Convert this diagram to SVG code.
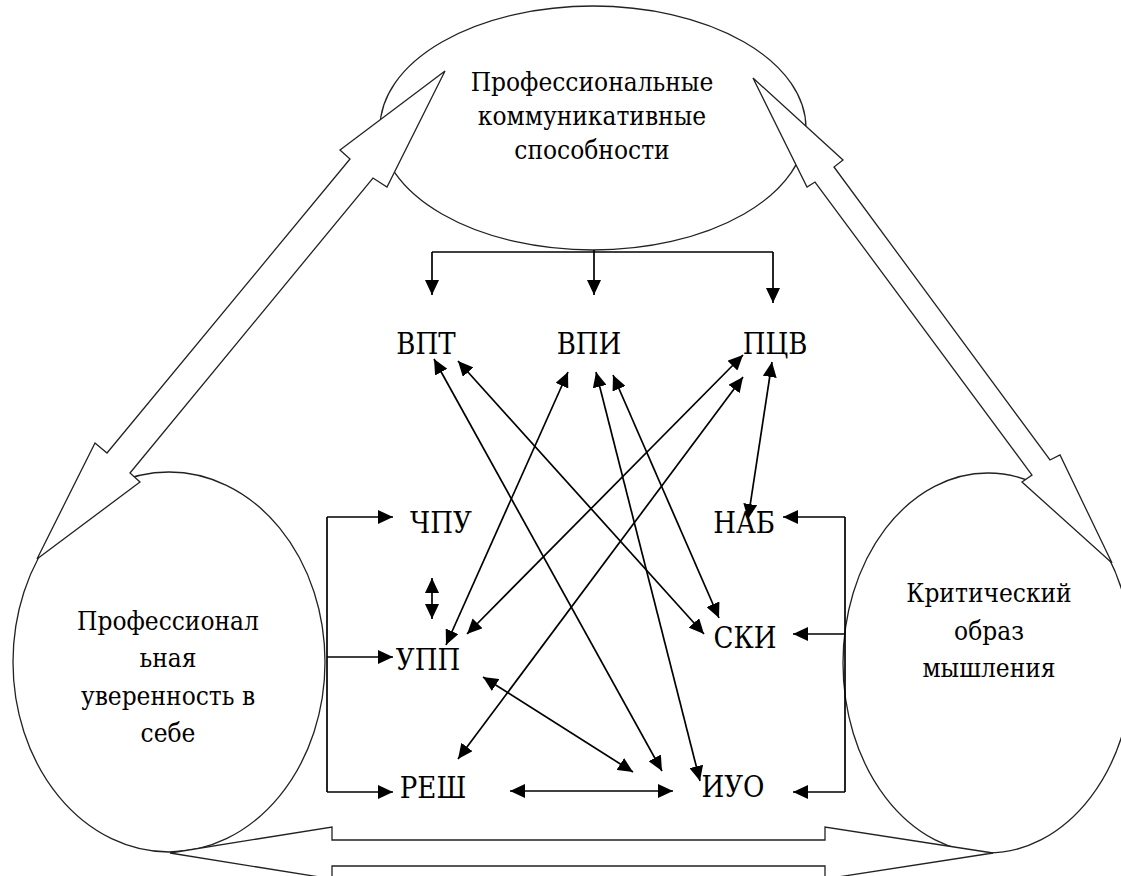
<svg xmlns="http://www.w3.org/2000/svg" width="1121" height="876" viewBox="0 0 1121 876">
<style>
.bg{fill:#fff}
.ell{fill:#fff;stroke:#222;stroke-width:1.3}
.blk{fill:#fff;stroke:#222;stroke-width:1.3;stroke-linejoin:miter}
.t{font-family:"DejaVu Serif Condensed","DejaVu Serif",serif;font-stretch:condensed;font-size:29px;fill:#000;text-anchor:middle}
.e{font-size:26px}
.ln{fill:none;stroke:#000;stroke-width:1.7}
.a1{marker-end:url(#ah)}
.a2{marker-start:url(#ah);marker-end:url(#ah)}
</style>
<defs>
<marker id="ah" markerUnits="userSpaceOnUse" markerWidth="16" markerHeight="14" refX="15" refY="7" orient="auto-start-reverse" viewBox="0 0 16 14">
<path d="M0,0 L15,7 L0,14 z" fill="#000"/>
</marker>
</defs>
<rect class="bg" x="0" y="0" width="1121" height="876"/>

<g id="node-communicative">
<ellipse class="ell" cx="593" cy="128" rx="213" ry="122"/>
<text class="t e" x="592" y="91">Профессиональные</text>
<text class="t e" x="592" y="125">коммуникативные</text>
<text class="t e" x="592" y="159">способности</text>
</g>
<g id="node-confidence">
<ellipse class="ell" cx="169" cy="662" rx="156" ry="190"/>
</g>
<g id="node-critical">
<ellipse class="ell" cx="988" cy="663" rx="145" ry="190"/>
</g>

<g id="connectors">
<polygon class="blk" points="445,71 340,150 350,159 107,453 95,443 37,559 140,482 130,473 373,178 387,187"/>
<polygon class="blk" points="753,78 843,160 834,167 1050,460 1060,455 1112,563 1022,482 1032,475 815,182 807,187"/>
<polygon class="blk" points="170,853 332,827 332,840 825,840 825,827 993,853 825,879 825,866 332,866 332,879"/>

<line class="ln" x1="432" y1="252" x2="773" y2="252"/>
<line class="ln a1" x1="432" y1="252" x2="432" y2="295"/>
<line class="ln a1" x1="594" y1="250" x2="594" y2="295"/>
<line class="ln a1" x1="773" y1="252" x2="773" y2="303"/>

<line class="ln" x1="327" y1="517" x2="327" y2="792"/>
<line class="ln a1" x1="327" y1="517" x2="393" y2="517"/>
<line class="ln a1" x1="327" y1="657" x2="393" y2="657"/>
<line class="ln a1" x1="327" y1="792" x2="393" y2="792"/>

<line class="ln" x1="845" y1="517" x2="845" y2="792"/>
<line class="ln a1" x1="845" y1="517" x2="783" y2="517"/>
<line class="ln a1" x1="845" y1="634" x2="793" y2="634"/>
<line class="ln a1" x1="845" y1="792" x2="793" y2="792"/>

<line class="ln a2" x1="432" y1="578" x2="432" y2="619"/>
<line class="ln a2" x1="510" y1="791" x2="673" y2="791"/>
<line class="ln a2" x1="483" y1="677" x2="633" y2="772"/>
<line class="ln a2" x1="434" y1="359" x2="662" y2="771"/>
<line class="ln a2" x1="458" y1="361" x2="704" y2="634"/>
<line class="ln a2" x1="568" y1="372" x2="446" y2="645"/>
<line class="ln a2" x1="596" y1="372" x2="700" y2="781"/>
<line class="ln a2" x1="613" y1="375" x2="719" y2="618"/>
<line class="ln a2" x1="743" y1="355" x2="467" y2="634"/>
<line class="ln a2" x1="743" y1="377" x2="458" y2="759"/>
<line class="ln a2" x1="772" y1="362" x2="748" y2="519"/>
</g>

<g id="label-confidence">
<text class="t e" x="168" y="630">Профессионал</text>
<text class="t e" x="168" y="667">ьная</text>
<text class="t e" x="168" y="705">уверенность в</text>
<text class="t e" x="168" y="742">себе</text>
</g>
<g id="label-critical">
<text class="t e" x="989" y="602">Критический</text>
<text class="t e" x="989" y="640">образ</text>
<text class="t e" x="989" y="677">мышления</text>
</g>

<g id="node-VPT"><text class="t" x="426" y="354">ВПТ</text></g>
<g id="node-VPI"><text class="t" x="589" y="354">ВПИ</text></g>
<g id="node-PCV"><text class="t" x="775" y="354">ПЦВ</text></g>
<g id="node-CHPU"><text class="t" x="441" y="533">ЧПУ</text></g>
<g id="node-NAB"><text class="t" x="744" y="533">НАБ</text></g>
<g id="node-UPP"><text class="t" x="428" y="670">УПП</text></g>
<g id="node-SKI"><text class="t" x="745" y="648">СКИ</text></g>
<g id="node-RESH"><text class="t" x="433" y="798">РЕШ</text></g>
<g id="node-IUO"><text class="t" x="733" y="797">ИУО</text></g>
</svg>
